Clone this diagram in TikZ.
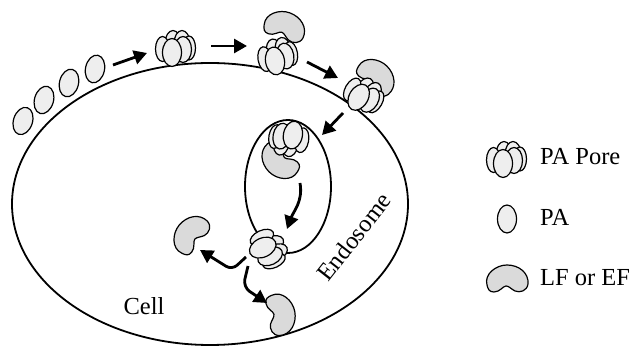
\documentclass[tikz,border=0pt]{standalone}
\usepackage{fontspec}
\setmainfont{Liberation Serif}
\usetikzlibrary{arrows.meta}
\definecolor{pafill}{HTML}{EEEEEE}
\definecolor{lffill}{HTML}{DADADA}
\tikzset{
  membrane/.style={line width=1.8pt},
  lobe/.style={draw, fill=pafill, line width=1.2pt},
  toxin/.style={draw, fill=lffill, line width=1.2pt, line join=round},
  move/.style={line width=2.8pt, -{Triangle[length=13pt,width=14pt]}},
  txt/.style={font=\fontsize{24.5}{28}\selectfont, inner sep=0pt},
  % heptameric pore seen from the side
  pore/.pic={
    \path[lobe] (-2,3.5) ellipse [x radius=8pt, y radius=13pt];
    \path[lobe] (7,3.5) ellipse [x radius=8pt, y radius=13pt];
    \path[lobe] (-12.5,-2) ellipse [x radius=7pt, y radius=12.5pt];
    \path[lobe] (14,-1) ellipse [x radius=6.5pt, y radius=12pt];
    \path[lobe] (8,-2.5) ellipse [x radius=8.5pt, y radius=13pt];
    \path[lobe] (-3,-5.5) ellipse [x radius=9.5pt, y radius=14pt];
  },
  % single PA monomer
  monomer/.pic={
    \path[lobe] (0,0) ellipse [x radius=9.5pt, y radius=14pt];
  },
  % bean-shaped LF / EF
  bean/.pic={
    \path[toxin] (-20,-6) .. controls (-23,5) and (-11,14) .. (0,14)
      .. controls (12,14) and (22,6) .. (21,-5)
      .. controls (20,-12) and (13,-14) .. (8,-12)
      .. controls (4,-10) and (2,-7) .. (-1,-7)
      .. controls (-4,-7) and (-7,-13) .. (-13,-13)
      .. controls (-18,-13) and (-19,-10) .. cycle;
  },
}
\begin{document}
\begin{tikzpicture}[x=1pt,y=1pt]
\useasboundingbox (0,0) rectangle (634,347);

% membranes
\draw[membrane] (210,143) ellipse [x radius=198pt, y radius=141pt];
\draw[membrane] (288,160.5) ellipse [x radius=43pt, y radius=66.5pt];

% PA monomers arriving at the surface
\coordinate (pa1) at (23,226);
\coordinate (pa2) at (44,247);
\coordinate (pa3) at (69,264);
\coordinate (pa4) at (95,278);
\pic[rotate=-18] at (pa1) {monomer};
\pic[rotate=-16] at (pa2) {monomer};
\pic[rotate=-14] at (pa3) {monomer};
\pic[rotate=-12] at (pa4) {monomer};

% toxin factors
\coordinate (lf1) at (285,321);
\coordinate (lf2) at (377,271);
\coordinate (lf3) at (279,185);
\coordinate (lf4) at (190,113);
\coordinate (lf5) at (281,33);
\pic[rotate=-20] at (lf1) {bean};
\pic[rotate=-45] at (lf2) {bean};
\pic[rotate=135] at (lf3) {bean};
\pic[rotate=50] at (lf4) {bean};
\pic[rotate=-80] at (lf5) {bean};

% pores
\coordinate (p1) at (175,300);
\coordinate (p2) at (277,292);
\coordinate (p3) at (364,253);
\coordinate (p4) at (289,207);
\coordinate (p5) at (269,99);
\pic at (p1) {pore};
\pic[rotate=10] at (p2) {pore};
\pic[rotate=-30] at (p3) {pore};
\pic[rotate=170] at (p4) {pore};
\pic[rotate=-65] at (p5) {pore};

% pathway arrows
\coordinate (a1s) at (113,282); \coordinate (a1e) at (147,294);
\coordinate (a2s) at (211,301); \coordinate (a2e) at (247,301);
\coordinate (a3s) at (307,285); \coordinate (a3e) at (338,269);
\coordinate (a4s) at (343,234); \coordinate (a4e) at (322,212);
\coordinate (a5s) at (300,164); \coordinate (a5e) at (287,118);
\coordinate (a6s) at (246,90);  \coordinate (a6m) at (232,77);  \coordinate (a6e) at (200,97);
\coordinate (a7s) at (248,81);  \coordinate (a7m) at (243,60);  \coordinate (a7e) at (267,44);
\draw[move] (a1s) -- (a1e);
\draw[move] (a2s) -- (a2e);
\draw[move] (a3s) -- (a3e);
\draw[move] (a4s) -- (a4e);
\draw[move] (a5s) to[out=-80,in=70] (a5e);
\draw[move, rounded corners=7pt] (a6s) -- (a6m) -- (a6e);
\draw[move, rounded corners=8pt] (a7s) -- (a7m) -- (a7e);

% compartment labels
\node[txt, anchor=base] (cell) at (144,32) {Cell};
\node[txt, rotate=52] (endo) at (354,110) {Endosome};

% legend
\coordinate (kpore) at (506,189);
\coordinate (kpa) at (507,128);
\coordinate (klf) at (507,68);
\pic at (kpore) {pore};
\pic at (kpa) {monomer};
\pic at (klf) {bean};
\node[txt, anchor=base west] (tpore) at (540,182) {PA Pore};
\node[txt, anchor=base west] (tpa) at (540,121) {PA};
\node[txt, anchor=base west] (tlf) at (540,61) {LF or EF};
\end{tikzpicture}
\end{document}
